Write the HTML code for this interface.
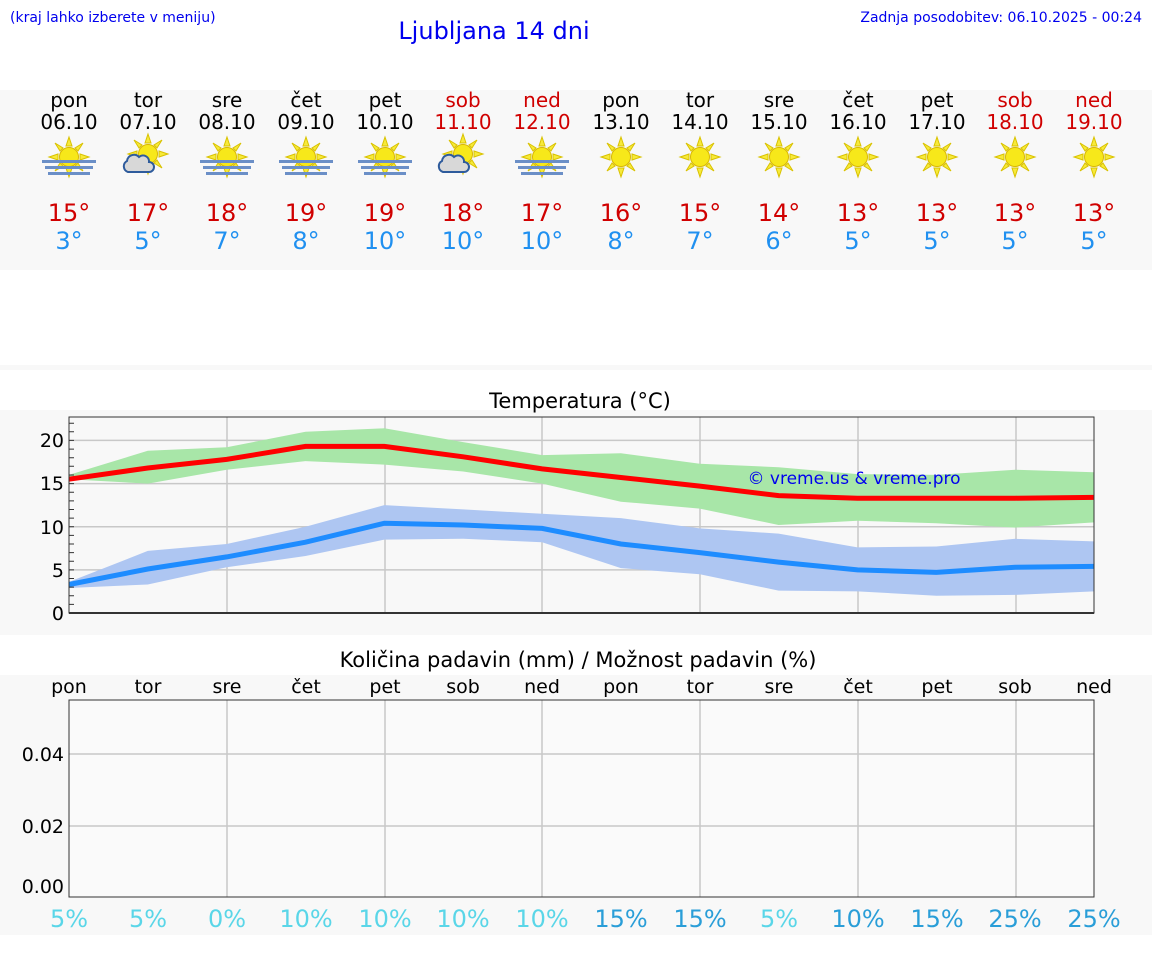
<!DOCTYPE html>
<html><head><meta charset="utf-8"><style>
body{margin:0;background:#fff;}
svg{display:block;font-family:"DejaVu Sans","Liberation Sans",sans-serif;}
</style></head><body>
<svg width="1152" height="975" viewBox="0 0 1152 975" xmlns="http://www.w3.org/2000/svg">
<defs>
<g id="sun">
<g stroke="#d9c200" stroke-width="1" fill="#f7ea3a">
<polygon points="0,-20 3,-11 -3,-11"/><polygon points="0,20 3,11 -3,11"/>
<polygon points="-20,0 -11,3 -11,-3"/><polygon points="20,0 11,3 11,-3"/>
<polygon points="14,-14 9,-6 6,-9"/><polygon points="-14,-14 -9,-6 -6,-9"/>
<polygon points="14,14 9,6 6,9"/><polygon points="-14,14 -9,6 -6,9"/>
</g>
<circle r="9.5" fill="#f7e81a" stroke="#d9b800" stroke-width="1"/>
</g>
<g id="fog"><use href="#sun"/>
<rect x="-27" y="3" width="54" height="3" fill="#6b8fc7"/>
<rect x="-24" y="9" width="48" height="3" fill="#6b8fc7"/>
<rect x="-21" y="15" width="42" height="3" fill="#6b8fc7"/>
</g>
<g id="cld"><g transform="translate(6,-4)"><use href="#sun"/></g>
<path d="M-14,14 a6,6 0 0 1 -1,-11 a7,7 0 0 1 12,-4 a6,6 0 0 1 10,5 a5,5 0 0 1 0,10 z" fill="#d8d8d8" stroke="#2e5b9c" stroke-width="2"/>
</g>
</defs>
<rect width="1152" height="975" fill="#fff"/>
<text x="10" y="22" font-size="14" fill="#0000ee">(kraj lahko izberete v meniju)</text>
<text x="494" y="39" font-size="24" fill="#0000ee" text-anchor="middle">Ljubljana 14 dni</text>
<text x="1142" y="22" font-size="14" fill="#0000ee" text-anchor="end">Zadnja posodobitev: 06.10.2025 - 00:24</text>

<rect x="0" y="90" width="1152" height="180" fill="#f8f8f8"/>
<g font-size="20" text-anchor="middle">
<g fill="#000">
<text x="69" y="107">pon</text><text x="148" y="107">tor</text><text x="227" y="107">sre</text><text x="306" y="107">čet</text><text x="385" y="107">pet</text>
<text x="621" y="107">pon</text><text x="700" y="107">tor</text><text x="779" y="107">sre</text><text x="858" y="107">čet</text><text x="937" y="107">pet</text>
<text x="69" y="129">06.10</text><text x="148" y="129">07.10</text><text x="227" y="129">08.10</text><text x="306" y="129">09.10</text><text x="385" y="129">10.10</text>
<text x="621" y="129">13.10</text><text x="700" y="129">14.10</text><text x="779" y="129">15.10</text><text x="858" y="129">16.10</text><text x="937" y="129">17.10</text>
</g>
<g fill="#d00000">
<text x="463" y="107">sob</text><text x="542" y="107">ned</text><text x="1015" y="107">sob</text><text x="1094" y="107">ned</text>
<text x="463" y="129">11.10</text><text x="542" y="129">12.10</text><text x="1015" y="129">18.10</text><text x="1094" y="129">19.10</text>
</g>
<g font-size="24" fill="#d00000">
<text x="69" y="221">15°</text><text x="148" y="221">17°</text><text x="227" y="221">18°</text><text x="306" y="221">19°</text><text x="385" y="221">19°</text><text x="463" y="221">18°</text><text x="542" y="221">17°</text><text x="621" y="221">16°</text><text x="700" y="221">15°</text><text x="779" y="221">14°</text><text x="858" y="221">13°</text><text x="937" y="221">13°</text><text x="1015" y="221">13°</text><text x="1094" y="221">13°</text>
</g>
<g font-size="24" fill="#2090f0">
<text x="69" y="249">3°</text><text x="148" y="249">5°</text><text x="227" y="249">7°</text><text x="306" y="249">8°</text><text x="385" y="249">10°</text><text x="463" y="249">10°</text><text x="542" y="249">10°</text><text x="621" y="249">8°</text><text x="700" y="249">7°</text><text x="779" y="249">6°</text><text x="858" y="249">5°</text><text x="937" y="249">5°</text><text x="1015" y="249">5°</text><text x="1094" y="249">5°</text>
</g>
</g>
<use href="#fog" x="69" y="157"/><use href="#cld" x="142" y="158"/><use href="#fog" x="227" y="157"/><use href="#fog" x="306" y="157"/><use href="#fog" x="385" y="157"/><use href="#cld" x="457" y="158"/><use href="#fog" x="542" y="157"/>
<use href="#sun" x="621" y="157"/><use href="#sun" x="700" y="157"/><use href="#sun" x="779" y="157"/><use href="#sun" x="858" y="157"/><use href="#sun" x="937" y="157"/><use href="#sun" x="1015" y="157"/><use href="#sun" x="1094" y="157"/>

<rect x="0" y="365" width="1152" height="5" fill="#f8f8f8"/>
<rect x="0" y="410" width="1152" height="225" fill="#f8f8f8"/>
<text x="580" y="408" font-size="21" text-anchor="middle" fill="#000">Temperatura (°C)</text>
<g stroke="#c8c8c8" stroke-width="1.5">
<line x1="69" y1="569.9" x2="1094" y2="569.9"/><line x1="69" y1="526.7" x2="1094" y2="526.7"/><line x1="69" y1="483.6" x2="1094" y2="483.6"/><line x1="69" y1="440.4" x2="1094" y2="440.4"/>
<line x1="227" y1="417" x2="227" y2="613"/><line x1="385" y1="417" x2="385" y2="613"/><line x1="542" y1="417" x2="542" y2="613"/><line x1="700" y1="417" x2="700" y2="613"/><line x1="858" y1="417" x2="858" y2="613"/><line x1="1016" y1="417" x2="1016" y2="613"/>
</g>
<polygon fill="#a8e6a8" points="69,474.9 147.8,450.8 226.7,447.3 305.5,431.8 384.4,428.3 463.2,442.1 542.1,455.1 620.9,453.3 699.8,463.7 778.6,467.2 857.5,474.1 936.3,474.9 1015.2,469.7 1094,472.3 1094,522.4 1015.2,527.6 936.3,523.2 857.5,520.7 778.6,525 699.8,508.6 620.9,501.7 542.1,483.6 463.2,471.5 384.4,464.6 305.5,461.1 226.7,469.7 147.8,483.6 69,479.2"/>
<polygon fill="#aec6f2" points="69,581.9 147.8,550.9 226.7,544 305.5,526.7 384.4,505.1 463.2,509.4 542.1,513.8 620.9,518.1 699.8,528.4 778.6,533.6 857.5,547.4 936.3,546.5 1015.2,538.8 1094,541.4 1094,591.4 1015.2,594.9 936.3,595.7 857.5,591.4 778.6,590.6 699.8,574.2 620.9,568.1 542.1,542.2 463.2,538.8 384.4,539.6 305.5,556 226.7,567.3 147.8,584.5 69,588"/>
<polyline fill="none" stroke="#ff0000" stroke-width="5" points="69,479.2 147.8,468 226.7,459.4 305.5,446.4 384.4,446.4 463.2,456.8 542.1,468.9 620.9,477.5 699.8,486.1 778.6,495.6 857.5,498.2 936.3,498.2 1015.2,498.2 1094,497.4"/>
<polyline fill="none" stroke="#1e8cff" stroke-width="5" points="69,584.5 147.8,569 226.7,556.9 305.5,542.2 384.4,523.2 463.2,525 542.1,528.4 620.9,544 699.8,552.6 778.6,562.1 857.5,569.9 936.3,572.4 1015.2,567.3 1094,566.4"/>
<text x="854" y="484" font-size="17" fill="#0000ee" text-anchor="middle">© vreme.us &amp; vreme.pro</text>
<rect x="69" y="417" width="1025" height="196" fill="none" stroke="#333" stroke-width="1"/>
<line x1="69" y1="613" x2="1094" y2="613" stroke="#333" stroke-width="2"/>
<g stroke="#333" stroke-width="1">
<path d="M69,604.4h5M69,595.7h5M69,587.1h5M69,578.5h5M69,561.3h5M69,552.6h5M69,544h5M69,535.4h5M69,518.1h5M69,509.5h5M69,500.9h5M69,492.2h5M69,475h5M69,466.3h5M69,457.7h5M69,449.1h5M69,431.8h5M69,423.2h5M69,613h5M69,569.9h5M69,526.7h5M69,483.6h5M69,440.4h5"/>
</g>
<g font-size="19" text-anchor="end" fill="#000">
<text x="64" y="620">0</text><text x="64" y="577">5</text><text x="64" y="534">10</text><text x="64" y="490">15</text><text x="64" y="447">20</text>
</g>

<rect x="0" y="675" width="1152" height="260" fill="#f8f8f8"/>
<text x="578" y="667" font-size="21" text-anchor="middle" fill="#000">Količina padavin (mm) / Možnost padavin (%)</text>
<g font-size="19" text-anchor="middle" fill="#000">
<text x="69" y="693">pon</text><text x="148" y="693">tor</text><text x="227" y="693">sre</text><text x="306" y="693">čet</text><text x="385" y="693">pet</text><text x="463" y="693">sob</text><text x="542" y="693">ned</text><text x="621" y="693">pon</text><text x="700" y="693">tor</text><text x="779" y="693">sre</text><text x="858" y="693">čet</text><text x="937" y="693">pet</text><text x="1015" y="693">sob</text><text x="1094" y="693">ned</text>
</g>
<rect x="69" y="700" width="1025" height="197" fill="#fafafa"/>
<g stroke="#c8c8c8" stroke-width="1.5">
<line x1="69" y1="754" x2="1094" y2="754"/><line x1="69" y1="826" x2="1094" y2="826"/>
<line x1="227" y1="700" x2="227" y2="897"/><line x1="385" y1="700" x2="385" y2="897"/><line x1="542" y1="700" x2="542" y2="897"/><line x1="700" y1="700" x2="700" y2="897"/><line x1="858" y1="700" x2="858" y2="897"/><line x1="1016" y1="700" x2="1016" y2="897"/>
</g>
<rect x="69" y="700" width="1025" height="197" fill="none" stroke="#333" stroke-width="1"/>
<g font-size="19" text-anchor="end" fill="#000">
<text x="64" y="761">0.04</text><text x="64" y="833">0.02</text><text x="64" y="893">0.00</text>
</g>
<g font-size="24" text-anchor="middle">
<g fill="#5ad6e8">
<text x="69" y="927">5%</text><text x="148" y="927">5%</text><text x="227" y="927">0%</text><text x="306" y="927">10%</text><text x="385" y="927">10%</text><text x="463" y="927">10%</text><text x="542" y="927">10%</text><text x="779" y="927">5%</text>
</g>
<g fill="#2a9ed8">
<text x="621" y="927">15%</text><text x="700" y="927">15%</text><text x="858" y="927">10%</text><text x="937" y="927">15%</text><text x="1015" y="927">25%</text><text x="1094" y="927">25%</text>
</g>
</g>
</svg>
</body></html>
